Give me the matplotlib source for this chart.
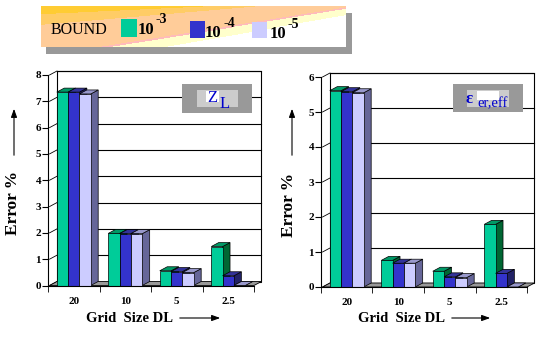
import numpy as np
import matplotlib
matplotlib.use("Agg")
import matplotlib.pyplot as plt
from matplotlib.patches import Polygon, Rectangle
from matplotlib.colors import ListedColormap

W, H = 539, 339

grid_sizes = ["20", "10", "5", "2.5"]
bound_labels = ["-3", "-4", "-5"]

# error % for Z_L
zl_1e3 = [7.35, 1.98, 0.56, 1.48]
zl_1e4 = [7.35, 1.97, 0.53, 0.37]
zl_1e5 = [7.28, 1.97, 0.49, 0.0]

# error % for eps_r,eff
eps_1e3 = [5.61, 0.76, 0.45, 1.79]
eps_1e4 = [5.58, 0.68, 0.29, 0.39]
eps_1e5 = [5.55, 0.68, 0.27, 0.0]

front = ["#00CC99", "#3333CC", "#CCCCFF"]
top = ["#009966", "#333399", "#9999CC"]
side = ["#006633", "#222266", "#666699"]

serif = "Liberation Serif"

fig = plt.figure(figsize=(W / 100, H / 100), dpi=100)


def px_axes(l, t, r, b):
    return fig.add_axes([l / W, 1 - b / H, (r - l) / W, (b - t) / H])


def panel(box, series, ymax, dxp=7.5, dyp=4):
    l, t, r, b = box
    ax = px_axes(l, t, r, b)
    x0, x1 = -0.47, 3.5
    ax.set_xlim(x0, x1)
    ax.set_ylim(0, ymax)
    ax.patch.set_visible(False)
    dx = dxp * (x1 - x0) / (r - l)
    dy = dyp * ymax / (b - t)

    # back wall, floor, grid
    ax.add_patch(Rectangle((x0 + dx, dy), x1 - x0, ymax, facecolor="white",
                           edgecolor="black", lw=0.8, zorder=0.5, clip_on=False))
    for v in range(1, ymax + 1):
        ax.plot([x0 + dx, x1 + dx], [v + dy, v + dy], color="black", lw=0.8,
                zorder=0.6, clip_on=False)
    for v in range(0, ymax + 1):
        ax.plot([x0, x0 + dx], [v, v + dy], color="black", lw=0.6,
                zorder=0.6, clip_on=False)
    ax.add_patch(Polygon([(x0, 0), (x1, 0), (x1 + dx, dy), (x0 + dx, dy)],
                         facecolor="#999999", edgecolor="black", lw=0.6,
                         zorder=1, clip_on=False))

    w = 0.22
    k = 0
    for i in range(len(grid_sizes)):
        for j, vals in enumerate(series):
            h = vals[i]
            xc = i + (j - 1) * w
            xl, xr = xc - w / 2, xc + w / 2
            z = 2 + k * 0.01
            ax.add_patch(Polygon([(xr, 0), (xr + dx, dy), (xr + dx, h + dy), (xr, h)],
                                 facecolor=side[j], edgecolor="black", lw=0.5,
                                 zorder=z, clip_on=False))
            ax.add_patch(Polygon([(xl, h), (xr, h), (xr + dx, h + dy), (xl + dx, h + dy)],
                                 facecolor=top[j], edgecolor="black", lw=0.5,
                                 zorder=z, clip_on=False))
            if h > 0:
                ax.bar(xc, h, width=w, color=front[j], edgecolor="black",
                       lw=0.5, zorder=z + 0.001)
            k += 1

    for s in ["top", "right"]:
        ax.spines[s].set_visible(False)
    ax.spines["left"].set_zorder(5)
    ax.spines["bottom"].set_zorder(5)
    ax.set_yticks(range(0, ymax + 1))
    ax.set_xticks(range(len(grid_sizes)))
    ax.set_xticklabels(grid_sizes)
    ax.set_xticks([-0.5 + i for i in range(len(grid_sizes) + 1)], minor=True)
    ax.tick_params(axis="x", which="major", length=0, pad=8)
    ax.tick_params(axis="x", which="minor", length=4, direction="out")
    ax.tick_params(axis="y", length=4, direction="out", pad=1)
    for lab in ax.get_xticklabels() + ax.get_yticklabels():
        lab.set_fontfamily(serif)
        lab.set_fontweight("bold")
        lab.set_fontsize(8)
    return ax


panel((48, 75, 254, 285.5), [zl_1e3, zl_1e4, zl_1e5], 8)
panel((321, 77, 527, 287), [eps_1e3, eps_1e4, eps_1e5], 6)

# overlay in pixel coordinates for decorations
ov = fig.add_axes([0, 0, 1, 1], zorder=10)
ov.axis("off")
ov.patch.set_visible(False)

# legend banner with shadow and banded gradient
ov.add_patch(Rectangle((46, 13), 306, 41, facecolor="#999999", edgecolor="none", zorder=1))
bx0, bx1, by0, by1 = 41, 346, 6, 47
xs = np.linspace(bx0, bx1, 400)
ys = np.linspace(by0, by1, 80)
X, Y = np.meshgrid(xs, ys)
lines = [(14, -1), (25, -2), (57, 7), (59, 8.5), (70, 15)]
band = np.zeros_like(X)
for y_l, y_r in lines:
    yline = y_l + (y_r - y_l) * (X - bx0) / (bx1 - bx0)
    band += (Y > yline)
cmap = ListedColormap(["#FFCC33", "#FFCC66", "#FFCC99", "#FFBBBB", "#FFFFCC", "#FFFFFF"])
ov.imshow(band, extent=(bx0, bx1, by1, by0), cmap=cmap, vmin=-0.5, vmax=5.5,
          aspect="auto", interpolation="nearest", zorder=2)
ov.set_xlim(0, W)
ov.set_ylim(H, 0)

ov.text(51, 34, "BOUND", fontfamily=serif, fontsize=11.5, va="baseline", zorder=3)
sq = [(121, 19, 16, 18), (190, 21, 15, 17), (252, 22, 15, 16)]
ten = [(138, 34), (205, 37), (270, 38)]
sup = [(155, 23), (223, 27), (287, 28)]
for j in range(3):
    x, y, w_, h_ = sq[j]
    ov.add_patch(Rectangle((x, y), w_, h_, facecolor=front[j], edgecolor="none", zorder=3))
    ov.text(ten[j][0], ten[j][1], "10", fontfamily=serif, fontweight="bold",
            fontsize=12, va="baseline", zorder=3)
    ov.text(sup[j][0], sup[j][1], bound_labels[j], fontfamily=serif, fontweight="bold",
            fontsize=10, va="baseline", zorder=3)

# inset labels
ov.add_patch(Rectangle((182, 84), 70, 29, facecolor="#999999", zorder=3))
ov.add_patch(Rectangle((197, 90), 41, 17, facecolor="#CCCCCC", zorder=3))
ov.add_patch(Rectangle((206, 91), 13, 11, facecolor="white", zorder=3))
ov.text(207, 102, "Z", fontfamily=serif, fontsize=12, color="#0000CC", va="baseline", zorder=4)
ov.text(220, 108.5, "L", fontfamily=serif, fontsize=12, color="#0000CC", va="baseline", zorder=4)

ov.add_patch(Rectangle((453, 84), 70, 28, facecolor="#999999", zorder=3))
ov.add_patch(Rectangle((467, 90), 42, 17, facecolor="#CCCCCC", zorder=3))
ov.add_patch(Rectangle((477, 91), 22, 9, facecolor="white", zorder=3))
ov.text(466, 103, "ε", fontfamily=serif, fontweight="bold", fontsize=12,
        color="#0000CC", va="baseline", zorder=4)
ov.text(477, 107, "er,eff", fontfamily=serif, fontsize=10.5, color="#0000CC",
        va="baseline", zorder=4)

# axis titles and arrows
arrow = dict(arrowstyle="-|>,head_length=0.5,head_width=0.18", color="black", lw=0.8)
for xl, yc, xa in [(13, 203, 14), (289, 205, 292)]:
    ov.text(xl, yc, "Error %", fontfamily=serif, fontweight="bold", fontsize=12.5,
            rotation=90, ha="center", va="center")
    ov.annotate("", xy=(xa, 106), xytext=(xa, 158), arrowprops=arrow)
for xc, xa0, xa1 in [(129, 177, 223), (401, 449, 493)]:
    ov.text(xc, 318, "Grid  Size DL", fontfamily=serif, fontweight="bold", fontsize=10.5,
            ha="center", va="center")
    ov.annotate("", xy=(xa1, 318), xytext=(xa0, 318), arrowprops=arrow)

fig.savefig("out.png", dpi=100)
